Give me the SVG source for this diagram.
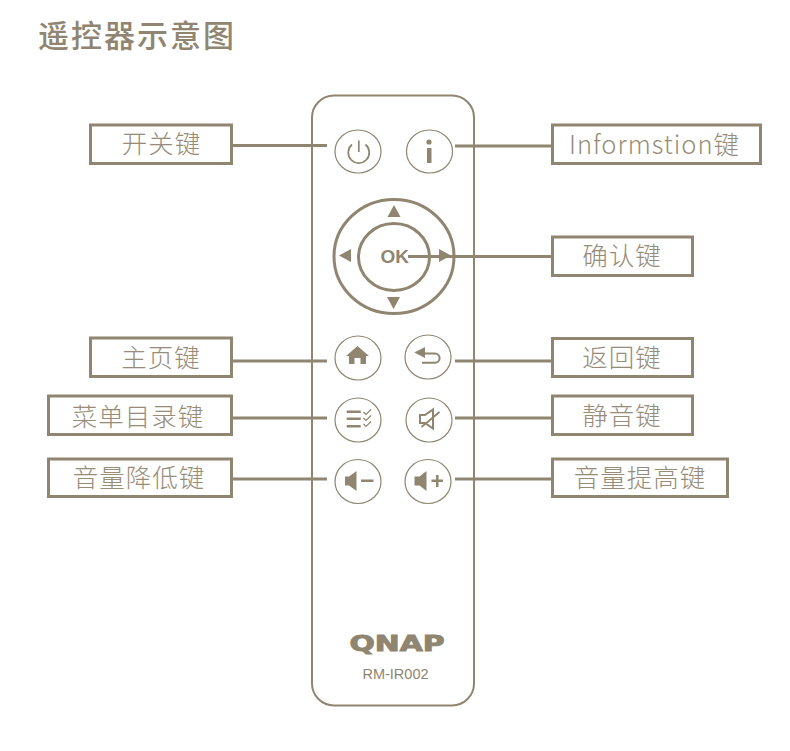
<svg xmlns="http://www.w3.org/2000/svg" width="790" height="751" viewBox="0 0 790 751">
<style>
.box{fill:#fff;stroke:#8f8570;stroke-width:3}
.lbl{font-family:"Noto Sans CJK SC","Noto Sans",sans-serif;font-size:25.500px;font-weight:300;fill:#968c78;text-anchor:middle;letter-spacing:1px}
.btn{fill:#fff;stroke:#8f8570;stroke-width:1.2}
.ic{fill:#8f8570;stroke:none}
.il{fill:none;stroke:#8f8570;stroke-width:2}
.con{stroke:#8f8570;stroke-width:3;fill:none}
</style>
<rect width="790" height="751" fill="#fff"/>
<text id="title" x="38" y="46.500" style="font-family:'Noto Sans CJK SC',sans-serif;font-size:31px;font-weight:500;fill:#8f8570;letter-spacing:2px">遥控器示意图</text>
<g id="remote">
<rect x="312" y="95.500" width="162" height="610" rx="22" ry="22" fill="#fff" stroke="#8f8570" stroke-width="2"/>
<text x="397" y="650.500" textLength="95" lengthAdjust="spacingAndGlyphs" style="font-family:'DejaVu Sans',sans-serif;font-size:20.500px;font-weight:bold;fill:#8f8570;stroke:#8f8570;stroke-width:.9;text-anchor:middle">QNAP</text>
<text x="395.500" y="678.500" style="font-family:'Liberation Sans',sans-serif;font-size:14.500px;fill:#8f8570;text-anchor:middle">RM-IR002</text>
</g>
<g id="btn-power">
<ellipse class="btn" cx="358" cy="151.500" rx="23" ry="21.500"/>
<path d="M352 144.500a10.500 10.500 0 1 0 13.500 0M358.800 140.500v11.500" fill="none" stroke="#8f8570" stroke-width="1.700"/>
</g>
<g id="btn-info">
<ellipse class="btn" cx="429.500" cy="151.500" rx="23" ry="21.500"/>
<circle class="ic" cx="429" cy="142" r="2.600"/>
<rect class="ic" x="427" y="148" width="4.500" height="15"/>
</g>
<g id="btn-dpad">
<ellipse cx="394" cy="256.500" rx="60" ry="57" fill="#fff" stroke="#8f8570" stroke-width="3"/>
<ellipse cx="394" cy="257" rx="35.500" ry="33.500" fill="#fff" stroke="#8f8570" stroke-width="3"/>
<path class="ic" d="M394 205l6.500 12h-13zM393.500 309l-6.500-12h13zM339 255.500l12-6.500v13zM451 255.500l-12-6.500v13z"/>
<text x="394.800" y="263" style="font-family:'Liberation Sans',sans-serif;font-size:19px;font-weight:bold;fill:#8f8570;text-anchor:middle">OK</text>
</g>
<g id="btn-home">
<ellipse class="btn" cx="358" cy="358" rx="23" ry="22"/>
<path class="ic" d="M346 356l11.500-10 11.500 10h-3v8h-5.500v-6h-6v6h-5.500v-8z"/>
</g>
<g id="btn-back">
<ellipse class="btn" cx="428" cy="357" rx="23" ry="22"/>
<path class="ic" d="M414.300 352.500l10.700-5.500v11z"/>
<path class="il" d="M423 353.500H435a4.600 4.600 0 0 1 0 9.200H422"/>
</g>
<g id="btn-menu">
<ellipse class="btn" cx="358" cy="420" rx="23" ry="22"/>
<rect class="ic" x="346.700" y="410.500" width="14" height="2.500"/>
<rect class="ic" x="346.700" y="417.500" width="14" height="2.500"/>
<rect class="ic" x="346.700" y="425" width="14" height="2.500"/>
<path d="M363.500 412l2.500 2.500 5-5M363.500 418l2.500 2.500 5-5M363.500 424l2.500 2.500 5-5" fill="none" stroke="#8f8570" stroke-width="1.200"/>
</g>
<g id="btn-mute">
<ellipse class="btn" cx="429" cy="420" rx="23" ry="22"/>
<path class="il" d="M420 415h5l8-5.500v19l-8-5.500h-5z"/>
<path d="M421.500 427l18-15" fill="none" stroke="#8f8570" stroke-width="1.800"/>
</g>
<g id="btn-voldown">
<ellipse class="btn" cx="358" cy="481.500" rx="23" ry="22"/>
<path class="ic" d="M345 476.500h4l7.500-5.500v20l-7.500-5.500h-4z"/>
<rect class="ic" x="361" y="479.500" width="12.500" height="2.500"/>
</g>
<g id="btn-volup">
<ellipse class="btn" cx="428" cy="481.500" rx="23" ry="22"/>
<path class="ic" d="M414.500 476.500h5l7-5.500v20l-7-5.500h-5z"/>
<rect class="ic" x="431.500" y="479.500" width="11.500" height="2.500"/>
<rect class="ic" x="436" y="475" width="2.500" height="12"/>
</g>
<g id="connectors">
<path class="con" d="M232 145.500H327M455 146H552M408 256.500H552M232 361H327M455 361H552M232 418H327M455 418H552M232 479H327M455 479H552"/>
</g>
<g id="lbl-power"><rect class="box" x="90.500" y="125" width="141" height="38.500"/><text class="lbl" x="161.500" y="152.500">开关键</text></g>
<g id="lbl-info"><rect class="box" x="552.500" y="125" width="208" height="38.500"/><text class="lbl" x="654.500" y="154" textLength="171">Informstion键</text></g>
<g id="lbl-ok"><rect class="box" x="552.500" y="237" width="140" height="38.500"/><text class="lbl" x="622" y="265">确认键</text></g>
<g id="lbl-home"><rect class="box" x="90.500" y="338" width="141" height="38.500"/><text class="lbl" x="161" y="366.500">主页键</text></g>
<g id="lbl-back"><rect class="box" x="552.500" y="338.500" width="140" height="38"/><text class="lbl" x="622" y="366.500">返回键</text></g>
<g id="lbl-menu"><rect class="box" x="48.500" y="396" width="183" height="38.500"/><text class="lbl" x="138" y="426">菜单目录键</text></g>
<g id="lbl-mute"><rect class="box" x="552.500" y="396" width="140" height="38.500"/><text class="lbl" x="622" y="424.500">静音键</text></g>
<g id="lbl-voldown"><rect class="box" x="48.500" y="459" width="183" height="37.500"/><text class="lbl" x="139" y="487">音量降低键</text></g>
<g id="lbl-volup"><rect class="box" x="552.500" y="459" width="175" height="37.500"/><text class="lbl" x="640" y="487">音量提高键</text></g>
</svg>
